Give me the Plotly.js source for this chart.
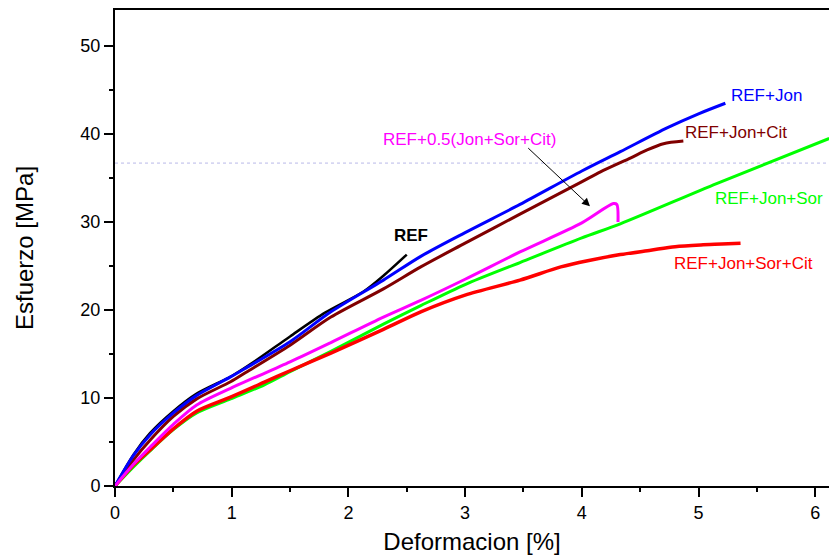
<!DOCTYPE html>
<html>
<head>
<meta charset="utf-8">
<script src="https://cdn.plot.ly/plotly-3.0.1.min.js"></script>
<style>html,body{margin:0;padding:0;background:#fff;}#chart{width:829px;height:557px;}</style>
</head>
<body>
<div id="chart"></div>
<script>
// Series: strain [%] vs stress [MPa]
const refX = [0, 0.16, 0.3, 0.5, 0.7, 1.0, 1.2, 1.5, 1.8, 2.13, 2.3, 2.5];
const refY = [0, 3.6, 6.0, 8.5, 10.5, 12.5, 14.2, 17.0, 19.7, 22.1, 23.9, 26.3];

const jonX = [0, 0.16, 0.3, 0.5, 0.7, 0.99, 1.12, 1.5, 1.85, 2.3, 2.62, 3.0, 3.47, 4.0, 4.33, 4.73, 5.0, 5.23];
const jonY = [0, 3.5, 5.8, 8.3, 10.3, 12.4, 13.4, 16.4, 19.8, 23.4, 26.1, 28.8, 32.0, 35.8, 38.0, 40.7, 42.3, 43.5];

const jonCitX = [0, 0.16, 0.3, 0.5, 0.7, 0.99, 1.12, 1.5, 1.85, 2.3, 2.62, 3.0, 3.47, 3.99, 4.16, 4.42, 4.56, 4.7, 4.87];
const jonCitY = [0, 3.0, 5.2, 7.9, 9.9, 11.85, 12.9, 16.0, 19.2, 22.4, 24.9, 27.6, 30.9, 34.5, 35.7, 37.3, 38.2, 38.9, 39.2];

const halfX = [0, 0.16, 0.3, 0.5, 0.7, 0.99, 1.5, 1.85, 2.3, 2.62, 3.0, 3.47, 4.0, 4.27, 4.30, 4.31];
const halfY = [0, 2.5, 4.4, 7.0, 9.2, 11.1, 14.1, 16.3, 19.2, 21.1, 23.5, 26.6, 29.9, 32.1, 32.0, 30.0];

const jonSorX = [0, 0.16, 0.3, 0.5, 0.7, 0.99, 1.28, 1.5, 1.85, 2.3, 2.62, 3.0, 3.47, 4.0, 4.33, 5.16, 6.12];
const jonSorY = [0, 2.2, 4.0, 6.4, 8.3, 9.9, 11.5, 13.0, 15.3, 18.4, 20.5, 22.9, 25.4, 28.2, 29.8, 34.4, 39.5];

const allX = [0, 0.16, 0.3, 0.5, 0.7, 0.99, 1.28, 1.5, 1.85, 2.3, 2.62, 3.0, 3.47, 3.82, 4.05, 4.33, 4.59, 4.8, 5.02, 5.2, 5.36];
const allY = [0, 2.4, 4.1, 6.5, 8.5, 10.1, 11.8, 13.1, 15.1, 17.8, 19.8, 21.7, 23.4, 24.9, 25.6, 26.3, 26.8, 27.2, 27.4, 27.5, 27.6];

const refLine = 36.7; // dotted horizontal reference line

const labels = ["REF", "REF+Jon", "REF+Jon+Cit", "REF+0.5(Jon+Sor+Cit)", "REF+Jon+Sor", "REF+Jon+Sor+Cit"];
const colors = ["#000000", "#0000ff", "#800000", "#ff00ff", "#00ff00", "#ff0000"];

const FONT = "Arial, 'Liberation Sans', sans-serif";

const traces = [
  {x: refX, y: refY, name: labels[0], line: {color: colors[0], width: 2.5}},
  {x: jonSorX, y: jonSorY, name: labels[4], line: {color: colors[4], width: 3}},
  {x: allX, y: allY, name: labels[5], line: {color: colors[5], width: 3.5}},
  {x: jonCitX, y: jonCitY, name: labels[2], line: {color: colors[2], width: 3}},
  {x: jonX, y: jonY, name: labels[1], line: {color: colors[1], width: 3}},
  {x: halfX, y: halfY, name: labels[3], line: {color: colors[3], width: 3}}
].map(t => Object.assign({type: 'scatter', mode: 'lines', hoverinfo: 'skip'}, t));
traces.forEach(t => { t.line.shape = 'spline'; t.line.smoothing = 0.8; });

const ann = (text, x, y, color, anchor, extra) => Object.assign({
  text: text, x: x, y: y, xref: 'x', yref: 'y', showarrow: false,
  xanchor: anchor, yanchor: 'middle', font: {family: FONT, size: 17, color: color}
}, extra || {});

const layout = {
  width: 829, height: 557,
  margin: {l: 115, r: 0, t: 10, b: 71},
  paper_bgcolor: '#ffffff', plot_bgcolor: '#ffffff',
  showlegend: false,
  font: {family: FONT, color: '#000'},
  xaxis: {
    range: [0, 6.118], tickvals: [0, 1, 2, 3, 4, 5, 6],
    ticks: 'outside', ticklen: 9, tickwidth: 2, tickcolor: '#000',
    minor: {tickvals: [0.5, 1.5, 2.5, 3.5, 4.5, 5.5], ticks: 'outside', ticklen: 4, tickwidth: 2, tickcolor: '#000'},
    showline: true, linecolor: '#000', linewidth: 2, mirror: true,
    showgrid: false, zeroline: false,
    tickfont: {family: FONT, size: 18, color: '#000'},
    title: {text: 'Deformacion [%]', font: {family: FONT, size: 24, color: '#000'}, standoff: 12}
  },
  yaxis: {
    range: [0, 54.1], tickvals: [0, 10, 20, 30, 40, 50],
    ticks: 'outside', ticklen: 9, tickwidth: 2, tickcolor: '#000',
    minor: {tickvals: [5, 15, 25, 35, 45], ticks: 'outside', ticklen: 4, tickwidth: 2, tickcolor: '#000'},
    showline: true, linecolor: '#000', linewidth: 2,
    showgrid: false, zeroline: false,
    tickfont: {family: FONT, size: 18, color: '#000'},
    title: {text: 'Esfuerzo [MPa]', font: {family: FONT, size: 24, color: '#000'}, standoff: 40}
  },
  shapes: [{
    type: 'line', xref: 'paper', x0: 0, x1: 1, yref: 'y', y0: refLine, y1: refLine,
    line: {color: '#b8b8e8', width: 1, dash: 'dot'}, layer: 'below'
  }],
  annotations: [
    ann(labels[0], 2.54, 28.5, colors[0], 'center', {text: '<b>REF</b>'}),
    ann(labels[1], 5.26, 44.4, colors[1], 'left'),
    ann(labels[2], 4.87, 40.2, colors[2], 'left'),
    ann(labels[3], 2.28, 39.4, colors[3], 'left'),
    ann(labels[4], 5.12, 32.7, colors[4], 'left'),
    ann(labels[5], 4.77, 25.3, colors[5], 'left'),
    {x: 4.07, y: 31.8, ax: 3.528, ay: 38.56, xref: 'x', yref: 'y', axref: 'x', ayref: 'y',
     text: '', showarrow: true, arrowhead: 2, arrowsize: 1.6, arrowwidth: 1, arrowcolor: '#000'}
  ]
};

Plotly.newPlot('chart', traces, layout, {staticPlot: true, displayModeBar: false});
</script>
</body>
</html>
